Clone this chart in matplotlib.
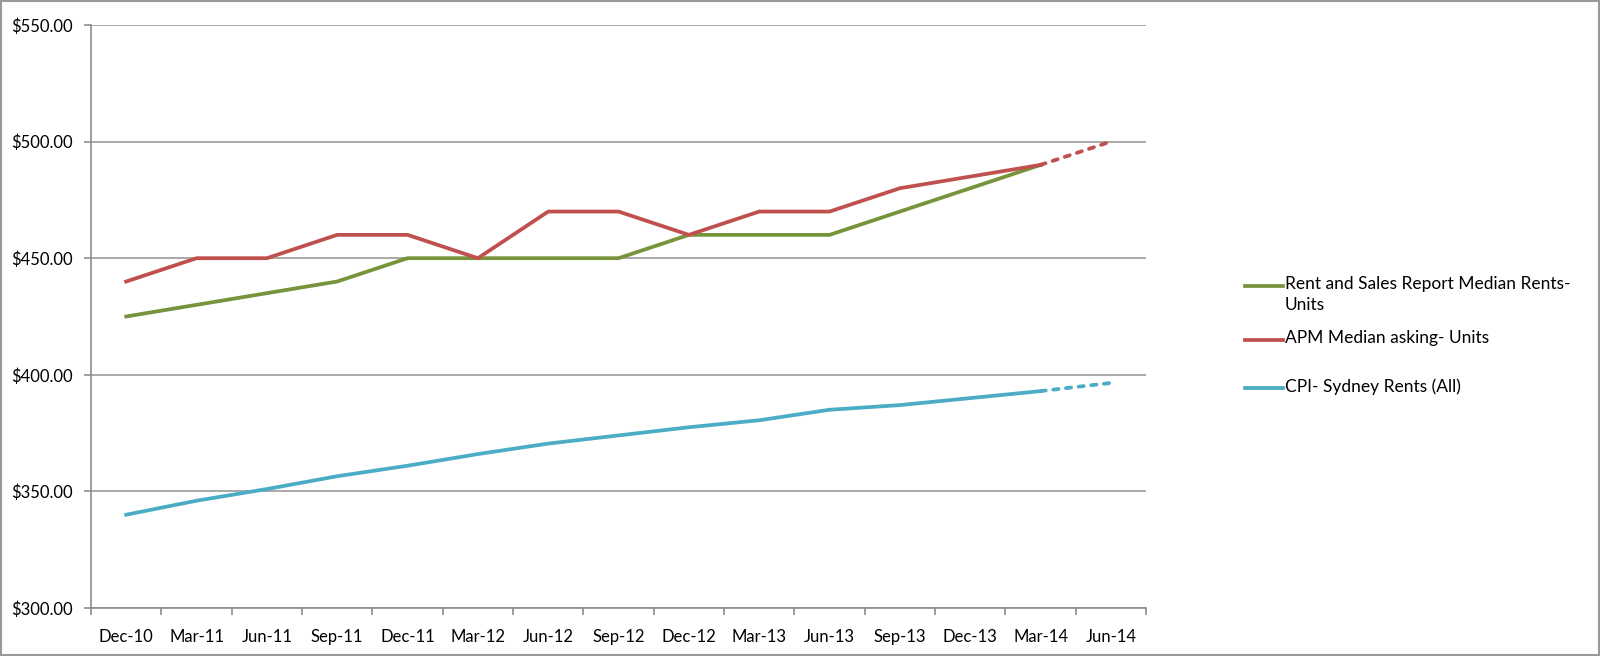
import matplotlib.pyplot as plt
from matplotlib.lines import Line2D
from matplotlib.patches import Rectangle
plt.rcParams['font.family'] = ['Lato', 'DejaVu Sans']

quarters = ['Dec-10', 'Mar-11', 'Jun-11', 'Sep-11', 'Dec-11', 'Mar-12', 'Jun-12', 'Sep-12',
            'Dec-12', 'Mar-13', 'Jun-13', 'Sep-13', 'Dec-13', 'Mar-14', 'Jun-14']

# None = no value for that quarter; last point of red/cyan is a forecast (dashed)
rent_sales = [425, 430, 435, 440, 450, 450, 450, 450, 460, 460, 460, 470, 480, 490, None]
apm_asking = [440, 450, 450, 460, 460, 450, 470, 470, 460, 470, 470, 480, 485, 490, 500]
cpi_sydney = [340, 346, 351, 356.5, 361, 366, 370.5, 374, 377.5, 380.5, 385, 387, 390, 393, 396.5]

names = ['Rent and Sales Report Median Rents-\nUnits', 'APM Median asking- Units', 'CPI- Sydney Rents (All)']
colors = ['#77933C', '#C0504D', '#4BACC6']
yticks = [300, 350, 400, 450, 500, 550]

fig = plt.figure(figsize=(16, 6.56), dpi=100, facecolor='w')
ax = fig.add_axes([0.0569, 0.0732, 0.6594, 0.8887])

x = list(range(len(quarters)))
for vals, c in zip([rent_sales, apm_asking, cpi_sydney], colors):
    solid = [(i, v) for i, v in zip(x[:-1], vals[:-1]) if v is not None]
    ax.plot([p[0] for p in solid], [p[1] for p in solid], color=c, lw=2.7,
            solid_joinstyle='miter', zorder=3)
    if vals[-1] is not None:
        ax.plot(x[-2:], vals[-2:], color=c, lw=2.7, dashes=(1.4, 2.0),
                dash_capstyle='round', zorder=3)

ax.set_xlim(-0.5, len(quarters) - 0.5)
ax.set_ylim(300, 550)
ax.set_yticks(yticks)
ax.set_yticklabels(['$%.2f' % v for v in yticks])
ax.yaxis.grid(True, color='#999999', lw=1.2)
ax.set_axisbelow(True)

# tick marks between categories, labels at category centres
ax.set_xticks([i - 0.5 for i in range(len(quarters) + 1)])
ax.set_xticklabels([])
ax.set_xticks(x, minor=True)
ax.set_xticklabels(quarters, minor=True)
ax.tick_params(axis='x', which='major', length=5, color='#8c8c8c', width=1.2)
ax.tick_params(axis='x', which='minor', length=0, pad=15, labelsize=12)
ax.tick_params(axis='y', length=5, color='#8c8c8c', width=1.2, pad=8, labelsize=12)

for s in ['top', 'right']:
    ax.spines[s].set_visible(False)
for s in ['left', 'bottom']:
    ax.spines[s].set_color('#8c8c8c')
    ax.spines[s].set_linewidth(1.2)

# legend drawn to match the spreadsheet layout
leg_y = [286, 340, 388]
for name, c, yy in zip(names, colors, leg_y):
    fy = 1 - yy / 656
    fig.add_artist(Line2D([1245 / 1600, 1283 / 1600], [fy, fy], color=c, lw=2.7,
                          transform=fig.transFigure))
    fig.text(1285 / 1600, fy + 10 / 656, name, fontsize=12.5, va='top', ha='left',
             linespacing=1.4)

fig.add_artist(Rectangle((0.0005, 0.001), 0.999, 0.997, transform=fig.transFigure,
                         fill=False, edgecolor='#999999', lw=1.5))

fig.savefig('out.png')
